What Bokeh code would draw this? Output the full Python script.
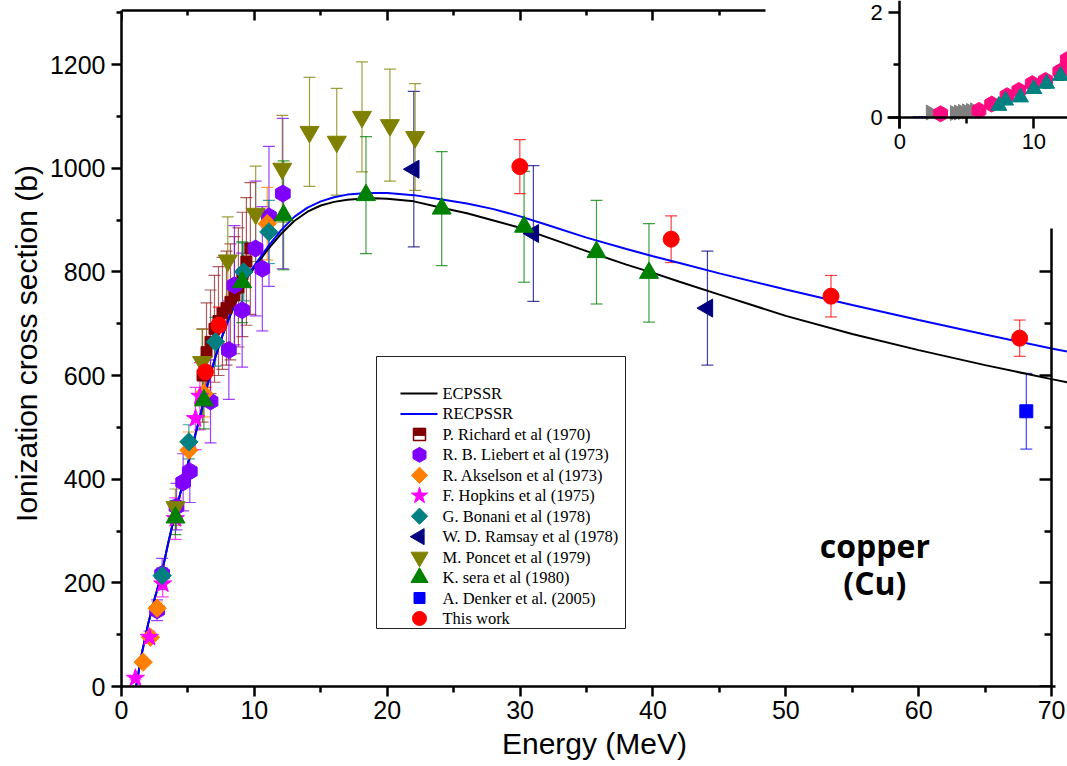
import math
from bokeh.plotting import figure
from bokeh.models import (Range1d, LinearAxis, FixedTicker, Whisker, ColumnDataSource,
                          Label, TeeHead)
from bokeh.core.properties import value
from bokeh.embed import file_html
from bokeh.resources import INLINE

# ---------------- data ----------------
ecpssr_x = [1.1, 1.5, 2.0, 2.5, 3.0, 3.5, 4.0, 4.5, 5.0, 5.5, 6.0, 6.5, 7.0, 7.5, 8.0, 8.5, 9.0, 9.5,
            10, 11, 12, 13, 14, 15, 16, 17, 18, 19, 20, 22, 24, 26, 28, 30, 32, 35, 38, 40, 42, 45,
            50, 55, 60, 65, 70, 71.2]
ecpssr_y = [0, 60, 120, 170, 215, 275, 330, 380, 430, 480, 530, 585, 630, 670, 705, 735, 765, 790,
            808, 843, 873, 898, 916, 928, 935, 939, 941, 942, 941, 936, 924, 913, 899, 885, 867, 840,
            814, 798, 781, 756, 715, 680, 649, 620, 593, 587]
recpssr_x = [1.1, 1.5, 2.0, 2.5, 3.0, 3.5, 4.0, 4.5, 5.0, 5.5, 6.0, 6.5, 7.0, 7.5, 8.0, 8.5, 9.0, 9.5,
             10, 11, 12, 13, 14, 15, 16, 17, 18, 19, 20, 22, 24, 26, 28, 30, 32, 35, 38, 40, 42, 45,
             50, 55, 60, 65, 70, 71.2]
recpssr_y = [0, 60, 120, 170, 215, 275, 330, 380, 430, 480, 530, 585, 630, 670, 705, 737, 768, 793,
             812, 848, 880, 906, 924, 936, 944, 949, 951, 952, 952, 948, 940, 932, 921, 907, 891, 866,
             844, 830, 817, 797, 766, 736, 707, 679, 652, 646]

richard_e = [6.1, 6.4, 6.7, 7.0, 7.3, 7.6, 7.9, 8.2, 8.5, 8.8, 9.1, 9.4, 9.7]
richard_s = [600, 645, 665, 690, 705, 720, 730, 742, 755, 770, 795, 820, 845]
richard_err = [90, 95, 100, 103, 105, 108, 110, 112, 113, 115, 120, 123, 127]

liebert_e = [2.68, 3.06, 4.14, 4.64, 5.14, 6.7, 8.08, 8.5, 9.08, 10.09, 10.6, 11.1, 12.14]
liebert_s = [147, 217, 347, 394, 415, 550, 649, 774, 726, 845, 806, 907, 951]
liebert_err = [20, 30, 45, 55, 60, 80, 95, 115, 110, 130, 120, 135, 145]

akselson_e = [1.63, 2.18, 2.68, 5.07, 6.2, 10.97]
akselson_s = [47, 95, 151, 456, 565, 893]
akselson_err = [4, 8, 12, 35, 45, 70]

hopkins_e = [1.05, 2.1, 3.1, 4.06, 5.57, 5.9]
hopkins_s = [16, 95, 198, 324, 517, 560]
hopkins_err = [3, 12, 25, 40, 60, 65]

bonani_e = [3.06, 5.07, 7.07, 9.2, 11.09]
bonani_s = [214, 472, 665, 800, 877]
bonani_err = [15, 33, 47, 56, 61]

ramsay_e = [22.0, 31.0, 44.1]
ramsay_s = [998, 874, 730]
ramsay_err = [150, 131, 110]

poncet_e = [4.06, 6.07, 8.0, 10.1, 12.1, 14.15, 16.2, 18.1, 20.2, 22.1]
poncet_s = [346, 626, 822, 912, 999, 1070, 1051, 1099, 1083, 1060]
poncet_err = [35, 63, 84, 92, 103, 105, 103, 106, 108, 103]

sera_e = [4.06, 6.2, 9.08, 12.2, 18.4, 24.1, 30.3, 35.75, 39.7]
sera_s = [326, 552, 780, 909, 948, 922, 887, 838, 798]
sera_err = [33, 55, 78, 105, 113, 110, 107, 100, 95]

denker_e = [68.1]
denker_s = [531]
denker_err = [73]

thiswork_e = [6.32, 7.33, 29.98, 41.37, 53.4, 67.6]
thiswork_s = [607, 697, 1003, 863, 753, 672]
thiswork_err = [30, 35, 52, 45, 40, 35]

# inset (partly visible, top right)
inset_line_u = [1.0, 2.3]
inset_line_v = [0.0, 0.0]
inset_hex_u = [3.04, 5.9, 6.85, 8.0, 8.88, 9.88, 10.87, 11.94, 12.5]
inset_hex_v = [0.065, 0.13, 0.25, 0.41, 0.51, 0.64, 0.70, 0.87, 1.1]
inset_tri_u = [7.39, 7.89, 9.0, 10.0, 10.95, 11.99]
inset_tri_v = [0.22, 0.32, 0.38, 0.54, 0.64, 0.79]
inset_tri_err = [0.07, 0.07, 0.08, 0.08, 0.09, 0.09]
inset_grey_u = [2.3, 4.1, 4.4, 4.7, 5.0, 5.3, 5.6]
inset_grey_v = [0.09, 0.08, 0.09, 0.10, 0.11, 0.12, 0.13]

x_ticks = [0, 10, 20, 30, 40, 50, 60, 70]
y_ticks = [0, 200, 400, 600, 800, 1000, 1200]

legend_labels = ["ECPSSR", "RECPSSR", "P. Richard et al (1970)", "R. B. Liebert et al (1973)",
                 "R. Akselson et al (1973)", "F. Hopkins et al (1975)", "G. Bonani et al (1978)",
                 "W. D. Ramsay et al (1978)", "M. Poncet et al (1979)", "K. sera et al (1980)",
                 "A. Denker et al. (2005)", "This work"]

TICK_FONT = "Liberation Sans"

# ---------------- figure ----------------
p = figure(width=1067, height=766, x_range=Range1d(0, 71.2), y_range=Range1d(0, 1323.5),
           output_backend="svg", toolbar_location=None,
           min_border_left=121, min_border_right=0, min_border_top=0, min_border_bottom=80,
           outline_line_color=None, background_fill_color="white", border_fill_color="white")
p.xgrid.visible = False
p.ygrid.visible = False
# inset coordinates and a pixel-based layout space for the legend box
p.extra_x_ranges = {"ix": Range1d(-58.08, 12.51), "lx": Range1d(121, 1067)}
p.extra_y_ranges = {"iy": Range1d(-10.84, 2.223), "ly": Range1d(686, 0)}

def style_axis(ax, font_size="25px"):
    ax.axis_line_width = 2.5
    ax.axis_line_color = "black"
    ax.major_tick_line_width = 2.5
    ax.minor_tick_line_width = 2.5
    ax.major_tick_line_color = "black"
    ax.minor_tick_line_color = "black"
    ax.major_label_text_font = TICK_FONT
    ax.major_label_text_font_size = font_size
    ax.major_label_text_color = "black"

xa = p.xaxis[0]
style_axis(xa)
xa.ticker = FixedTicker(ticks=x_ticks, minor_ticks=[5, 15, 25, 35, 45, 55, 65])
xa.bounds = (-0.7, 70.3)
xa.major_tick_out = 10
xa.major_tick_in = 0
xa.minor_tick_out = 6
xa.minor_tick_in = 0
xa.major_label_standoff = 4
xa.axis_label = "Energy (MeV)"
xa.axis_label_text_font = TICK_FONT
xa.axis_label_text_font_size = "30px"
xa.axis_label_text_font_style = "normal"
xa.axis_label_text_color = "black"
xa.axis_label_standoff = 5

ya = p.yaxis[0]
style_axis(ya)
ya.ticker = FixedTicker(ticks=y_ticks, minor_ticks=[100, 300, 500, 700, 900, 1100, 1300])
ya.bounds = (-17, 1304)
ya.major_tick_out = 10
ya.major_tick_in = 0
ya.minor_tick_out = 5
ya.minor_tick_in = 0
ya.major_label_standoff = 6
ya.axis_label = "Ionization cross section (b)"
ya.axis_label_text_font = TICK_FONT
ya.axis_label_text_font_size = "30px"
ya.axis_label_text_font_style = "normal"
ya.axis_label_text_color = "black"
ya.axis_label_standoff = 4

# right axis (partial) and top border (partial)
ra = LinearAxis(fixed_location=70, bounds=(0, 884),
                ticker=FixedTicker(ticks=[0, 200, 400, 600, 800], minor_ticks=[100, 300, 500, 700]))
style_axis(ra)
ra.major_tick_in = 12
ra.major_tick_out = 0
ra.minor_tick_in = 7
ra.minor_tick_out = 0
ra.major_label_text_color = None
p.add_layout(ra, "right")

ta = LinearAxis(fixed_location=1304, bounds=(0, 48.5),
                ticker=FixedTicker(ticks=[0, 10, 20, 30, 40], minor_ticks=[5, 15, 25, 35, 45]))
style_axis(ta)
ta.major_tick_in = 10
ta.major_tick_out = 0
ta.minor_tick_in = 5
ta.minor_tick_out = 0
ta.major_label_text_color = None
p.add_layout(ta, "above")

# inset axes
iya = LinearAxis(x_range_name="ix", y_range_name="iy", fixed_location=0, bounds=(-0.22, 2.223),
                 ticker=FixedTicker(ticks=[0, 2], minor_ticks=[1]))
style_axis(iya, "22px")
iya.major_tick_out = 11
iya.major_tick_in = 0
iya.minor_tick_out = 6
iya.minor_tick_in = 0
iya.major_label_standoff = 6
p.add_layout(iya, "left")

ixa = LinearAxis(x_range_name="ix", y_range_name="iy", fixed_location=0, bounds=(-0.9, 12.51),
                 ticker=FixedTicker(ticks=[0, 10], minor_ticks=[5]))
style_axis(ixa, "22px")
ixa.major_tick_out = 11
ixa.major_tick_in = 0
ixa.minor_tick_out = 6
ixa.minor_tick_in = 0
ixa.major_label_standoff = 6
p.add_layout(ixa, "below")

# ---------------- theory curves ----------------
p.line(ecpssr_x, ecpssr_y, line_color="black", line_width=2)
p.line(recpssr_x, recpssr_y, line_color="#0000FF", line_width=2)

# ---------------- data sets ----------------
def dataset(xs, ys, errs, marker, color, size, angle=0.0, err_color=None, err_alpha=0.75):
    src = ColumnDataSource(dict(x=xs, y=ys,
                                upper=[a + b for a, b in zip(ys, errs)],
                                lower=[a - b for a, b in zip(ys, errs)]))
    ec = err_color or color
    w = Whisker(source=src, base="x", upper="upper", lower="lower", dimension="height",
                line_color=ec, line_width=1.2, line_alpha=err_alpha,
                upper_head=TeeHead(size=12, line_color=ec, line_width=1.2, line_alpha=err_alpha),
                lower_head=TeeHead(size=12, line_color=ec, line_width=1.2, line_alpha=err_alpha))
    p.add_layout(w)
    return p.scatter("x", "y", source=src, marker=marker, size=size, angle=angle,
                     fill_color=color, line_color=color, line_width=1)

dataset(richard_e, richard_s, richard_err, "square", "#800000", 11, err_color="#8B1A1A", err_alpha=0.7)
dataset(liebert_e, liebert_s, liebert_err, "hex", "#8000FF", 17, angle=math.pi / 2)
dataset(akselson_e, akselson_s, akselson_err, "square", "#FF8000", 13, angle=math.pi / 4)
dataset(hopkins_e, hopkins_s, hopkins_err, "star", "#FF00FF", 19)
dataset(bonani_e, bonani_s, bonani_err, "square", "#008080", 13, angle=math.pi / 4)
dataset(ramsay_e, ramsay_s, ramsay_err, "triangle", "#000080", 18, angle=math.pi / 2)
dataset(poncet_e, poncet_s, poncet_err, "inverted_triangle", "#808000", 19)
dataset(sera_e, sera_s, sera_err, "triangle", "#008000", 19)
dataset(denker_e, denker_s, denker_err, "square", "#0000FF", 13)
dataset(thiswork_e, thiswork_s, thiswork_err, "circle", "#FF0000", 16)

# ---------------- inset content ----------------
p.line(inset_line_u, inset_line_v, x_range_name="ix", y_range_name="iy", line_color="#0000FF", line_width=2)
p.scatter(inset_grey_u, inset_grey_v, x_range_name="ix", y_range_name="iy", marker="triangle",
          angle=-math.pi / 2, size=15, fill_color="#808080", line_color="#808080")
p.scatter(inset_hex_u, inset_hex_v, x_range_name="ix", y_range_name="iy", marker="hex",
          angle=math.pi / 2, size=16, fill_color="#FF0A80", line_color="#FF0A80")
isrc = ColumnDataSource(dict(x=inset_tri_u, y=inset_tri_v,
                             upper=[a + b for a, b in zip(inset_tri_v, inset_tri_err)],
                             lower=[a - b for a, b in zip(inset_tri_v, inset_tri_err)]))
p.add_layout(Whisker(source=isrc, base="x", upper="upper", lower="lower", dimension="height",
                     x_range_name="ix", y_range_name="iy", line_color="#008080", line_width=1,
                     upper_head=TeeHead(size=8, line_color="#008080", line_width=1),
                     lower_head=TeeHead(size=8, line_color="#008080", line_width=1)))
p.scatter("x", "y", source=isrc, x_range_name="ix", y_range_name="iy", marker="triangle", size=16,
          fill_color="#008080", line_color="#008080")

# ---------------- legend (drawn in pixel layout space) ----------------
LEG_L, LEG_R, LEG_T, LEG_B = 376, 625, 356, 628
ROW0, PITCH = 393, 20.45
SYM_X, LINE_X0, LINE_X1, TEXT_X = 419, 400, 437, 442
rows = [ROW0 + i * PITCH for i in range(len(legend_labels))]

p.quad(left=[LEG_L], right=[LEG_R], top=[LEG_T], bottom=[LEG_B], x_range_name="lx", y_range_name="ly",
       fill_color="white", line_color="#222222", line_width=1)
p.multi_line(xs=[[LINE_X0, LINE_X1], [LINE_X0, LINE_X1]], ys=[[rows[0], rows[0]], [rows[1], rows[1]]],
             line_color=["black", "#0000FF"], line_width=2, x_range_name="lx", y_range_name="ly")
# P. Richard symbol: half-filled square
p.scatter([SYM_X], [rows[2]], marker="square", size=12, fill_color="white", line_color="#800000",
          line_width=1.5, x_range_name="lx", y_range_name="ly")
p.rect([SYM_X], [rows[2] - 2.5], width=12, height=7, fill_color="#800000", line_color="#800000",
       x_range_name="lx", y_range_name="ly")
leg_src = ColumnDataSource(dict(
    x=[SYM_X] * 9, y=rows[3:],
    marker=["hex", "square", "star", "square", "triangle", "inverted_triangle", "triangle", "square", "circle"],
    color=["#8000FF", "#FF8000", "#FF00FF", "#008080", "#000080", "#808000", "#008000", "#0000FF", "#FF0000"],
    angle=[math.pi / 2, math.pi / 4, 0, math.pi / 4, math.pi / 2, 0, 0, 0, 0],
    size=[15, 11.5, 17, 11.5, 16, 17, 17, 11, 14]))
p.scatter("x", "y", source=leg_src, marker="marker", size="size", angle="angle",
          fill_color="color", line_color="color", x_range_name="lx", y_range_name="ly")
p.text(x=[TEXT_X] * len(legend_labels), y=rows, text=legend_labels, x_range_name="lx", y_range_name="ly",
       text_font=value("Liberation Serif"), text_font_size=value("16.5px"), text_color="black",
       text_baseline="middle", text_align="left")

# ---------------- element label ----------------
p.add_layout(Label(x=56.7, y=272, text="copper", text_align="center", text_baseline="middle",
                   text_font="Open Sans", text_font_style="bold", text_font_size="32px", text_color="black"))
p.add_layout(Label(x=56.7, y=201, text="(Cu)", text_align="center", text_baseline="middle",
                   text_font="Open Sans", text_font_style="bold", text_font_size="32px", text_color="black"))

open("out.html", "w").write(file_html(p, INLINE))
